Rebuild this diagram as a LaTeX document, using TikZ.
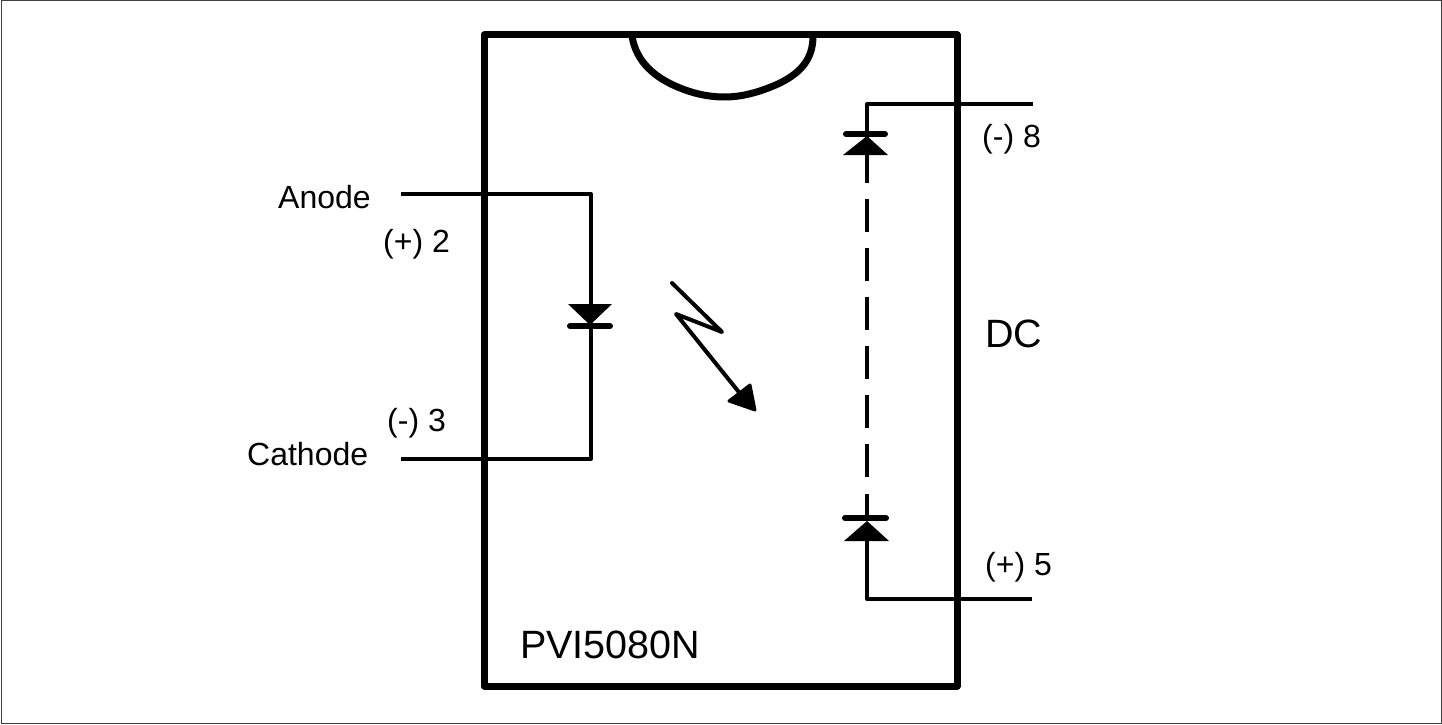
\documentclass[tikz,border=0pt]{standalone}
\usepackage{fontspec}
\setmainfont{Liberation Sans}
\tikzset{
  x=1pt,y=-1pt,
  frame/.style={draw=black!75,line width=1pt},
  chip/.style={draw=black,line width=7pt,line join=round},
  wire/.style={draw=black,line width=4pt,line join=round},
  bar/.style={draw=black,line width=6pt,line cap=round},
  tri/.style={fill=black},
  lbl/.style={font=\fontsize{32}{36}\selectfont,inner sep=0pt,anchor=base west},
  big/.style={font=\fontsize{39.5}{44}\selectfont,inner sep=0pt,anchor=base west},
}
\begin{document}
\begin{tikzpicture}
\useasboundingbox (0,0) rectangle (1442,725);
\fill[white] (0,0) rectangle (1442,725);
\draw[frame] (1,1) rectangle (1441,723);
\draw[chip] (484,35) rectangle (957,686);
\draw[chip] (632,36) .. controls (636,62) and (655,78) .. (680,88) .. controls (700,96) and (715,97) .. (725,97) .. controls (745,97) and (765,90) .. (780,83) .. controls (802,72) and (813,58) .. (813,36);
% left LED
\coordinate (a) at (401,194); \coordinate (ac) at (591,194);
\coordinate (c) at (401,459); \coordinate (cc) at (591,459);
\draw[wire] (a) -- (ac) -- (cc) -- (c);
\fill[tri] (568,304) -- (612,304) -- (590,325) -- cycle;
\draw[bar] (570,326) -- (610,326);
% arrow
\coordinate (z1) at (672,283); \coordinate (z2) at (722,332);
\coordinate (z3) at (676,314); \coordinate (z4) at (742,396);
\draw[draw=black,line width=4pt,line cap=round,line join=round] (z1) -- (z2) -- (z3) -- (z4);
\draw[fill=black,line width=3pt,line join=round] (750,385) -- (755,410) -- (729,401) -- cycle;
% top diode
\coordinate (t) at (1033,104); \coordinate (tc) at (867,104);
\draw[wire] (t) -- (tc) -- (867,183);
\draw[bar] (846,134) -- (885,134);
\fill[tri] (867,136) -- (888,155) -- (843,155) -- cycle;
% bottom diode
\coordinate (b) at (1032,599); \coordinate (bc) at (867,599);
\draw[wire] (b) -- (bc) -- (867,541);
\draw[wire] (867,494) -- (867,520);
\draw[bar] (845,518) -- (886,518);
\fill[tri] (867,521) -- (889,541) -- (844,541) -- cycle;
% dashes
\draw[draw=black,line width=4pt,dash pattern=on 33pt off 16pt] (867,199) -- (867,480);
% labels
\node[lbl] (n1) at (278,208) {Anode};
\node[lbl] (n2) at (383,252) {(+) 2};
\node[lbl] (n3) at (387,431) {(-) 3};
\node[lbl] (n4) at (247,465) {Cathode};
\node[lbl] (n5) at (982,147) {(-) 8};
\node[lbl] (n6) at (985,575) {(+) 5};
\node[big] (n7) at (985,347) {DC};
\node[big] (n8) at (520,658) {PVI5080N};
\end{tikzpicture}
\end{document}
